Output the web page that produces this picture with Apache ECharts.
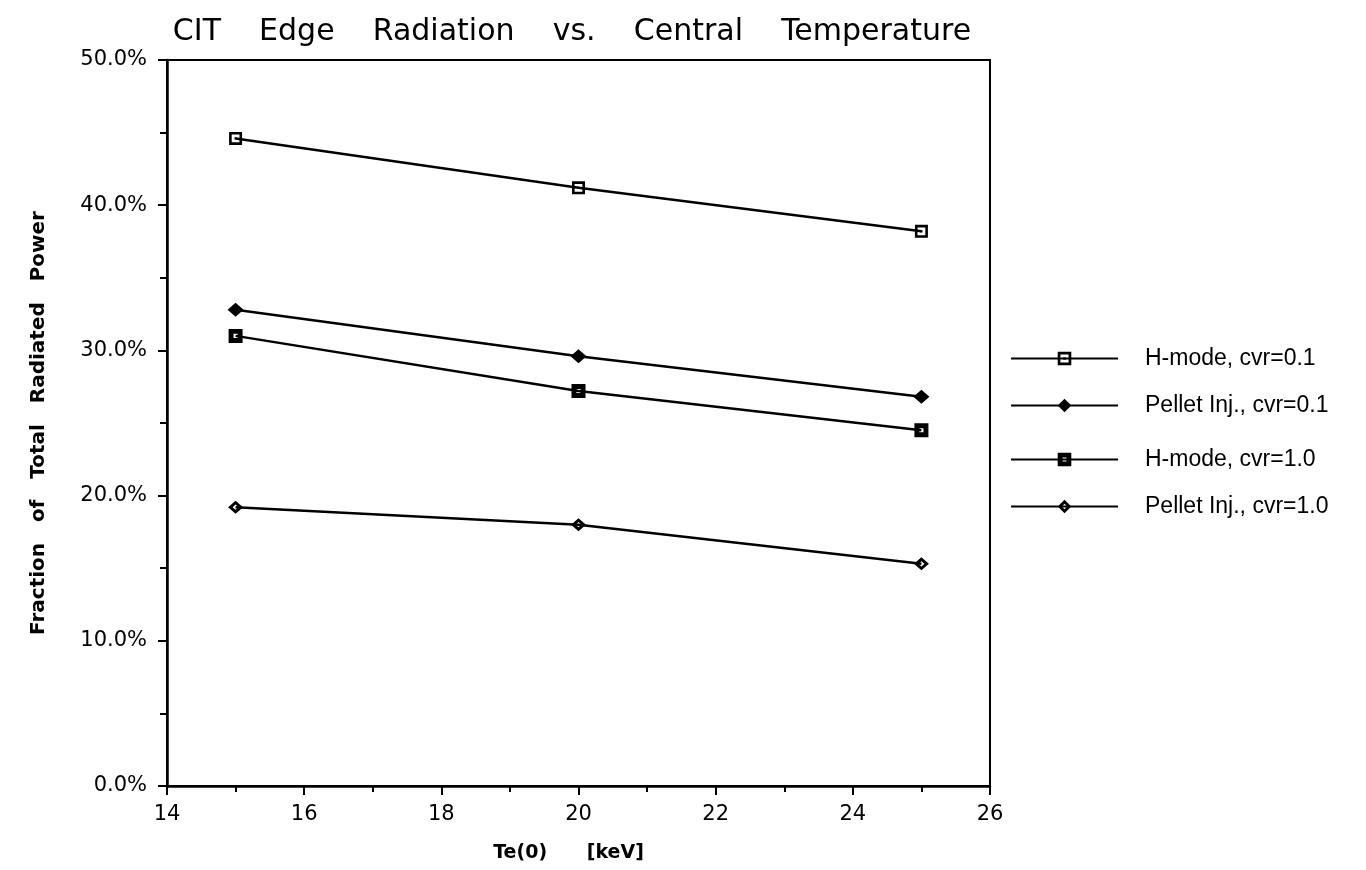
<!DOCTYPE html>
<html>
<head>
<meta charset="utf-8">
<script src="https://cdn.jsdelivr.net/npm/echarts@6/dist/echarts.min.js"></script>
<style>
  html, body { margin: 0; padding: 0; background: #fff; }
  #chart { width: 1366px; height: 870px; }
</style>
</head>
<body>
<div id="chart"></div>
<script>
// Central electron temperature Te(0) in keV
const te = [15, 20, 25];

// Fraction of total radiated power emitted from the edge (%)
const hModeCvr01 = [44.6, 41.2, 38.2];
const pelletCvr01 = [32.8, 29.6, 26.8];
const hModeCvr10 = [31.0, 27.2, 24.5];
const pelletCvr10 = [19.2, 18.0, 15.3];

const seriesNames = [
  'H-mode, cvr=0.1',
  'Pellet Inj., cvr=0.1',
  'H-mode, cvr=1.0',
  'Pellet Inj., cvr=1.0'
];

// Marker shapes: open square with centre dot, filled diamond,
// heavy square with small hole, open diamond
const symSquareDot = 'path://M0,0H12V12H0Z M2.4,2.4V9.6H9.6V2.4Z M5,5H7V7H5Z';
const symDiamondFill = 'path://M7,0L14,6L7,12L0,6Z';
const symSquareHeavy = 'path://M0,0H13V13H0Z M4.6,4.6V8.4H8.4V4.6Z';
const symDiamondOpen = 'path://M7,0L14,6L7,12L0,6Z M7,3.6L4.2,6L7,8.4L9.8,6Z';

const pair = (xs, ys) => xs.map((x, i) => [x, ys[i]]);

const seriesData = [hModeCvr01, pelletCvr01, hModeCvr10, pelletCvr10];
const symbols = [symSquareDot, symDiamondFill, symSquareHeavy, symDiamondOpen];
const symbolSizes = [[13, 13], [16, 14], [14, 14], [15, 13]];

const sans = '"Liberation Sans", Arial, Helvetica, sans-serif';
const wide = '"DejaVu Sans", Verdana, sans-serif';

const chart = echarts.init(document.getElementById('chart'), null, { renderer: 'canvas' });

const legendTops = [342, 389, 443, 490];

chart.setOption({
  backgroundColor: '#ffffff',
  animation: false,
  title: {
    text: 'CIT    Edge    Radiation    vs.    Central    Temperature',
    left: 567,
    textAlign: 'center',
    top: 12,
    textStyle: { fontFamily: wide, fontSize: 30, fontWeight: 'normal', color: '#000' }
  },
  grid: {
    left: 167, right: 376, top: 60, bottom: 84,
    show: true, borderColor: '#000', borderWidth: 2, backgroundColor: 'transparent'
  },
  legend: seriesNames.map((name, i) => ({
    data: [name],
    left: 1005,
    top: legendTops[i],
    orient: 'vertical',
    itemWidth: 107,
    itemHeight: 17,
    selectedMode: false,
    textStyle: { fontFamily: sans, fontSize: 23, color: '#000', padding: [0, 0, 0, 22] }
  })),
  xAxis: {
    type: 'value',
    min: 14, max: 26, interval: 2,
    name: 'Te(0)      [keV]',
    nameLocation: 'middle',
    nameGap: 58,
    nameTextStyle: {
      fontFamily: wide, fontSize: 19, fontWeight: 'bold', color: '#000',
      padding: [0, 20, 0, 0]
    },
    axisLine: { show: true, onZero: false, lineStyle: { color: '#000', width: 2.5 } },
    axisTick: { show: true, inside: false, length: 9, lineStyle: { color: '#000', width: 2 } },
    minorTick: { show: true, splitNumber: 2, length: 6, lineStyle: { color: '#000', width: 2 } },
    axisLabel: { fontFamily: wide, fontSize: 21, color: '#000', margin: 18 },
    splitLine: { show: false },
    minorSplitLine: { show: false }
  },
  yAxis: {
    type: 'value',
    min: 0, max: 50, interval: 10,
    name: 'Fraction   of   Total   Radiated   Power',
    nameLocation: 'middle',
    nameGap: 118,
    nameRotate: 90,
    nameTextStyle: { fontFamily: wide, fontSize: 20, fontWeight: 'bold', color: '#000' },
    axisLine: { show: true, onZero: false, lineStyle: { color: '#000', width: 2.5 } },
    axisTick: { show: true, inside: false, length: 9, lineStyle: { color: '#000', width: 2 } },
    minorTick: { show: true, splitNumber: 2, length: 7, lineStyle: { color: '#000', width: 2 } },
    axisLabel: {
      fontFamily: wide, fontSize: 21, color: '#000', margin: 20,
      formatter: v => v.toFixed(1) + '%'
    },
    splitLine: { show: false },
    minorSplitLine: { show: false }
  },
  series: seriesNames.map((name, i) => ({
    name,
    type: 'line',
    data: pair(te, seriesData[i]),
    symbol: symbols[i],
    symbolSize: symbolSizes[i],
    showAllSymbol: true,
    lineStyle: { color: '#000', width: 2.5 },
    itemStyle: { color: '#000', borderWidth: 0 },
    emphasis: { disabled: true }
  }))
});
</script>
</body>
</html>
